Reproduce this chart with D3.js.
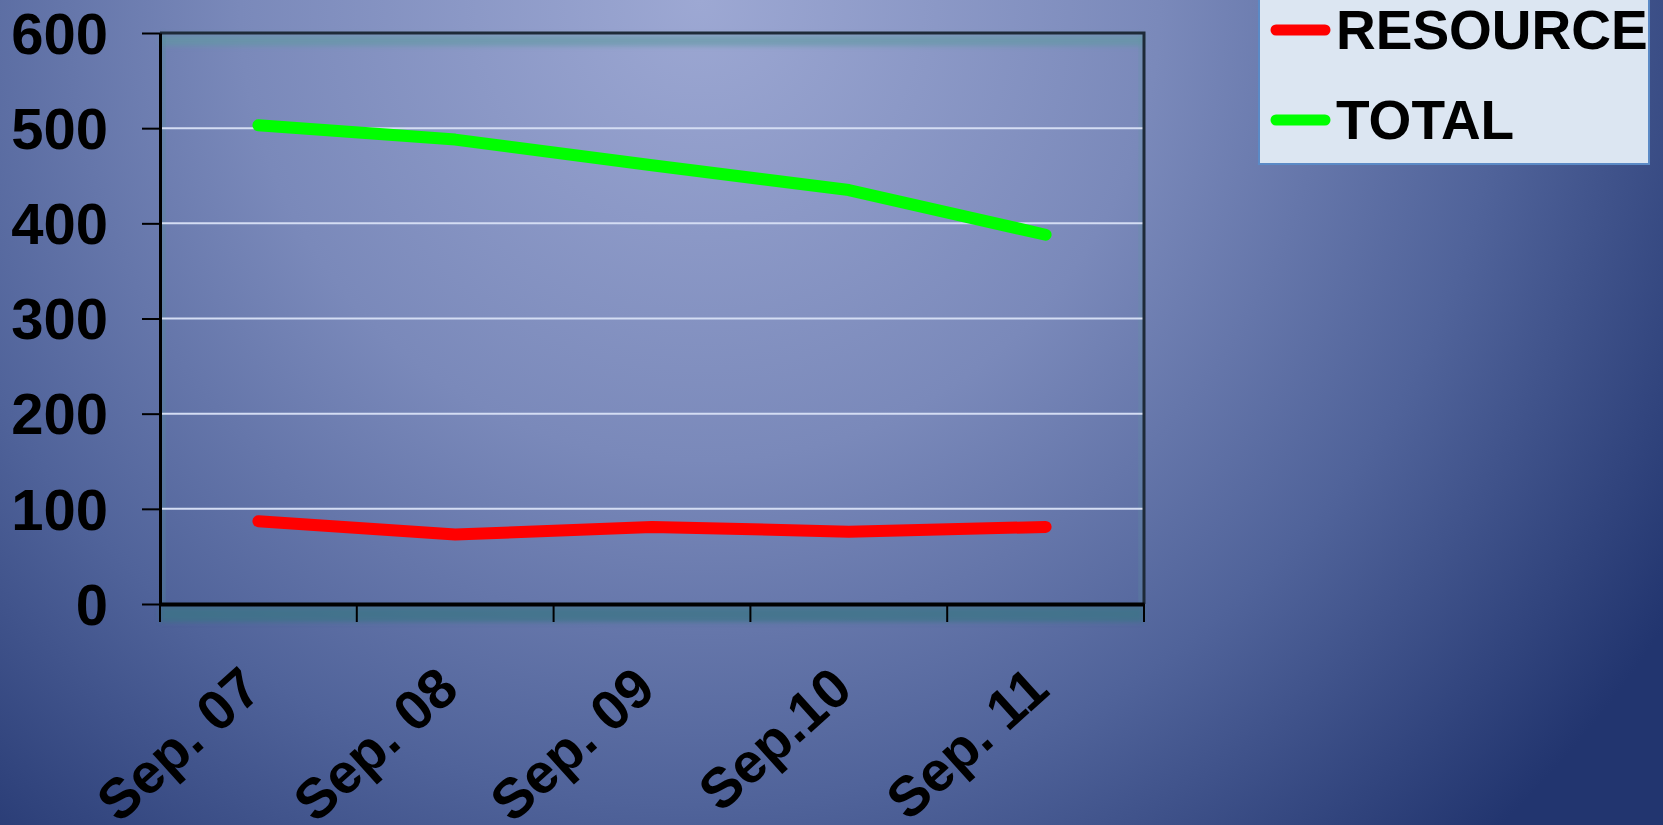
<!DOCTYPE html>
<html><head><meta charset="utf-8">
<script src="https://cdn.jsdelivr.net/npm/d3@7"></script>
<style>html,body{margin:0;padding:0;overflow:hidden;}svg{display:block;}</style>
</head><body>
<script>
const categories = ["Sep. 07", "Sep. 08", "Sep. 09", "Sep.10", "Sep. 11"];
const resourceValues = [87, 73, 81, 76, 81];
const totalValues = [503, 488, 461, 435, 388];
const yTicks = [0, 100, 200, 300, 400, 500, 600];
const seriesNames = ["RESOURCE", "TOTAL"];
const seriesColors = ["#ff0000", "#00ff00"];

const W = 1663, H = 825;
const L = 160, R = 1144, T = 33, B = 604;
const font = "'Liberation Sans', Arial, sans-serif";

const svg = d3.select("body").append("svg").attr("width", W).attr("height", H);
const defs = svg.append("defs");
const bg = defs.append("radialGradient").attr("id", "bg")
  .attr("gradientUnits", "userSpaceOnUse").attr("cx", 700).attr("cy", 0).attr("r", 1150);
[[0, "#9da8d3"], [0.4, "#7a89ba"], [0.7, "#50639a"], [1, "#22356f"]]
  .forEach(([o, c]) => bg.append("stop").attr("offset", o).attr("stop-color", c));
const blur = defs.append("filter").attr("id", "blur").attr("x", "-10%").attr("y", "-50%").attr("width", "120%").attr("height", "200%");
blur.append("feGaussianBlur").attr("stdDeviation", 2.5);

svg.append("rect").attr("width", W).attr("height", H).attr("fill", "url(#bg)");

const x = d3.scaleBand().domain(categories).range([L, R]);
const y = d3.scaleLinear().domain([0, 600]).range([B, T]);

// 3D-ish teal bands
svg.append("rect").attr("x", L).attr("y", T + 2).attr("width", R - L).attr("height", 11)
  .attr("fill", "#5f9aa0").attr("opacity", 0.6).attr("filter", "url(#blur)");
svg.append("rect").attr("x", L).attr("y", B + 2).attr("width", R - L).attr("height", 16)
  .attr("fill", "#3b7585").attr("opacity", 0.75).attr("filter", "url(#blur)");
svg.append("rect").attr("x", L + 1).attr("y", T).attr("width", 4).attr("height", B - T)
  .attr("fill", "#4f8f98").attr("opacity", 0.5).attr("filter", "url(#blur)");
svg.append("rect").attr("x", R - 5).attr("y", T).attr("width", 5).attr("height", B - T)
  .attr("fill", "#5f9aa0").attr("opacity", 0.35).attr("filter", "url(#blur)");

// gridlines
svg.append("g").selectAll("line").data(yTicks.filter(v => v > 0 && v < 600)).join("line")
  .attr("x1", L).attr("x2", R).attr("y1", d => y(d)).attr("y2", d => y(d))
  .attr("stroke", "#d4ddf3").attr("stroke-width", 2);

// frame
svg.append("path").attr("d", `M${L},${T}H${R}V${B}`).attr("fill", "none")
  .attr("stroke", "#1e2a38").attr("stroke-width", 3);

// y axis
const yAxis = svg.append("g").attr("transform", `translate(${L},0)`)
  .call(d3.axisLeft(y).tickValues(yTicks).tickSize(18).tickSizeOuter(0).tickPadding(34));
yAxis.select(".domain").attr("stroke", "#000").attr("stroke-width", 3);
yAxis.selectAll(".tick line").attr("stroke", "#000").attr("stroke-width", 2);
yAxis.selectAll(".tick text").attr("fill", "#000").attr("font-family", font)
  .attr("font-weight", "bold").attr("font-size", 58).attr("dy", "0.35em");

// x axis
const xAxis = svg.append("g").attr("transform", `translate(0,${B})`)
  .call(d3.axisBottom(x).tickSize(0).tickFormat(""));
xAxis.select(".domain").attr("stroke", "#000").attr("stroke-width", 4);
svg.append("g").selectAll("line").data(d3.range(categories.length + 1)).join("line")
  .attr("x1", i => L + i * x.step()).attr("x2", i => L + i * x.step())
  .attr("y1", B).attr("y2", B + 18).attr("stroke", "#000").attr("stroke-width", 2);

svg.append("g").selectAll("text").data(categories).join("text")
  .attr("transform", d => `translate(${x(d) + x.bandwidth() / 2 + 6},${B + 89}) rotate(-42)`)
  .attr("text-anchor", "end").attr("font-family", font).attr("font-weight", "bold")
  .attr("font-size", 56).attr("fill", "#000").text(d => d);

// lines
const line = d3.line().x((d, i) => x(categories[i]) + x.bandwidth() / 2).y(d => y(d));
[resourceValues, totalValues].forEach((vals, k) => {
  svg.append("path").datum(vals).attr("d", line).attr("fill", "none")
    .attr("stroke", seriesColors[k]).attr("stroke-width", 12)
    .attr("stroke-linecap", "round").attr("stroke-linejoin", "round");
});

// legend
const lg = svg.append("g");
lg.append("rect").attr("x", 1259).attr("y", -10).attr("width", 390).attr("height", 174)
  .attr("fill", "#dce6f2").attr("stroke", "#5b8ac6").attr("stroke-width", 2);
seriesNames.forEach((name, k) => {
  const cy = 30 + k * 90;
  lg.append("line").attr("x1", 1276).attr("x2", 1325).attr("y1", cy).attr("y2", cy)
    .attr("stroke", seriesColors[k]).attr("stroke-width", 11).attr("stroke-linecap", "round");
  lg.append("text").attr("x", 1336).attr("y", cy + 19).attr("font-family", font)
    .attr("font-weight", "bold").attr("font-size", 55).attr("fill", "#000").text(name);
});
</script>
</body></html>
